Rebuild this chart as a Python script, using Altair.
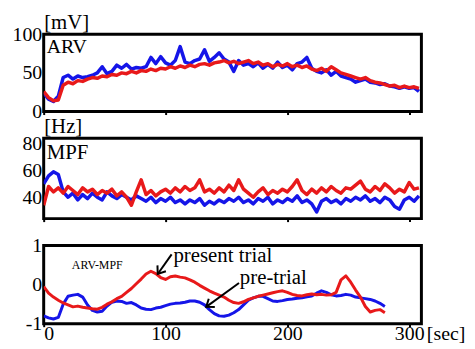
import altair as alt
import pandas as pd

# ---------------- data ----------------
T12 = list(range(0, 309, 4))  # seconds, panels ARV & MPF

arv_present = [26, 18, 14, 15, 34, 38, 36, 40, 39, 42,
               44, 43, 46, 45, 48, 47, 50, 49, 52, 50,
               53, 52, 55, 53, 56, 55, 58, 56, 59, 57,
               60, 58, 61, 62, 60, 63, 64, 66, 63, 65,
               62, 64, 66, 62, 64, 60, 62, 58, 61, 59,
               62, 58, 60, 57, 59, 55, 53, 56, 52, 58,
               54, 50, 48, 46, 44, 42, 44, 40, 38, 37,
               35, 33, 34, 31, 33, 31, 32, 30]
arv_pre = [24, 16, 13, 20, 44, 47, 42, 46, 44, 45,
           47, 50, 58, 49, 52, 60, 56, 61, 55, 57,
           56, 58, 70, 62, 71, 63, 60, 66, 84, 64,
           62, 66, 68, 80, 65, 70, 76, 68, 64, 52,
           66, 60, 62, 58, 63, 56, 61, 56, 64, 57,
           60, 54, 62, 64, 70, 56, 52, 50, 54, 47,
           52, 46, 44, 42, 38, 40, 42, 38, 37, 35,
           36, 33, 32, 30, 32, 30, 31, 26]

mpf_present = [34, 48, 44, 47, 43, 48, 45, 42, 47, 44,
               46, 42, 45, 43, 46, 41, 44, 40, 34, 44,
               53, 42, 45, 41, 44, 46, 43, 47, 44, 48,
               45, 47, 53, 44, 46, 43, 47, 44, 49, 45,
               53, 46, 43, 40, 44, 47, 42, 45, 43, 46,
               44, 48, 53, 45, 42, 46, 43, 47, 44, 48,
               45, 43, 47, 46, 49, 52, 46, 44, 48, 45,
               50, 47, 43, 46, 44, 51, 46, 47]
mpf_pre = [50, 56, 59, 57, 44, 40, 43, 38, 42, 39,
           43, 40, 38, 44, 41, 39, 42, 40, 38, 41,
           39, 37, 40, 36, 39, 37, 40, 36, 38, 35,
           38, 36, 39, 34, 37, 35, 38, 36, 39, 37,
           40, 36, 38, 35, 39, 37, 40, 35, 38, 36,
           39, 37, 41, 36, 38, 35, 29, 37, 39, 36,
           38, 35, 39, 37, 40, 38, 41, 37, 39, 36,
           40, 38, 33, 31, 38, 40, 37, 41]

T3 = list(range(0, 281, 4))  # seconds, ARV-MPF panel
diff_present = [-0.05, -0.22, -0.32, -0.40, -0.47, -0.52, -0.57, -0.55, -0.58, -0.60,
                -0.62, -0.63, -0.58, -0.50, -0.44, -0.36, -0.30, -0.20, -0.10, 0.02,
                0.14, 0.27, 0.34, 0.28, 0.18, 0.13, 0.20, 0.22, 0.19, 0.17,
                0.12, 0.06, -0.02, -0.09, -0.16, -0.22, -0.27, -0.32, -0.40, -0.46,
                -0.48, -0.44, -0.38, -0.34, -0.30, -0.27, -0.24, -0.21, -0.18, -0.16,
                -0.20, -0.25, -0.28, -0.29, -0.26, -0.24, -0.26, -0.25, -0.27, -0.26,
                -0.20, 0.12, 0.22, 0.06, -0.14, -0.32, -0.56, -0.70, -0.66, -0.64,
                -0.72]
diff_pre = [-0.80, -0.85, -0.88, -0.84, -0.50, -0.30, -0.27, -0.25, -0.32, -0.52,
            -0.66, -0.70, -0.68, -0.55, -0.45, -0.42, -0.43, -0.48, -0.46, -0.52,
            -0.60, -0.63, -0.64, -0.60, -0.58, -0.54, -0.50, -0.48, -0.47, -0.45,
            -0.42, -0.42, -0.45, -0.52, -0.64, -0.74, -0.80, -0.81, -0.78, -0.72,
            -0.64, -0.52, -0.40, -0.34, -0.30, -0.30, -0.36, -0.42, -0.43, -0.41,
            -0.38, -0.37, -0.35, -0.34, -0.31, -0.29, -0.22, -0.16, -0.20, -0.26,
            -0.29, -0.28, -0.25, -0.27, -0.32, -0.34, -0.36, -0.38, -0.42, -0.48,
            -0.56]

# annotations (data coordinates)
ann_text = ["present trial", "pre-trial"]
ann_t = [106.5, 161]
ann_v = [0.57, 0.01]
arrow_t1 = [105, 160.3]
arrow_v1 = [0.77, 0.04]
arrow_t2 = [93.6, 133.4]
arrow_v2 = [0.27, -0.57]
arrow_ang = [215, 234]

x_ticks = [0, 100, 200, 300]

# ---------------- style ----------------
BLUE = "#1515e8"
RED = "#e8191a"
FONT = "Liberation Serif, DejaVu Serif, Times New Roman, serif"
W = 381
XSCALE = alt.Scale(domain=[0, 310], nice=False, zero=False)
CHEVRON = "M -0.6 0.8 L 0 0 L 0.6 0.8"
LABEL_EXPR = "'' + datum.value"


def series_df(t, vals):
    return pd.DataFrame({"t": t, "v": vals})


def x_enc(field, show_labels):
    if show_labels:
        ax = alt.Axis(values=x_ticks, labels=True, labelFlush=True, ticks=True,
                      tickSize=3, tickWidth=2, tickColor="black", domain=False,
                      grid=False, labelPadding=13, labelBaseline="alphabetic",
                      labelFont=FONT, labelFontSize=20, labelColor="black",
                      labelExpr=LABEL_EXPR,
                      titleX=386, titleY=16, titleAlign="left",
                      titleBaseline="alphabetic", titleFont=FONT,
                      titleFontSize=20, titleFontWeight="normal",
                      titleColor="black")
        return alt.X(field, type="quantitative", scale=XSCALE, axis=ax, title="[sec]")
    ax = alt.Axis(values=x_ticks, labels=False, ticks=True, tickSize=3,
                  tickWidth=2, tickColor="black", domain=False, grid=False)
    return alt.X(field, type="quantitative", scale=XSCALE, axis=ax, title=None)


def y_enc(field, domain, values, title):
    common = dict(values=values, ticks=False, domain=False, grid=False,
                  labelPadding=2, labelFont=FONT, labelFontSize=20,
                  labelColor="black", labelExpr=LABEL_EXPR)
    scale = alt.Scale(domain=domain, nice=False, zero=False)
    if title:
        ax = alt.Axis(titleAngle=0, titleAlign="left",
                      titleBaseline="top", titleX=0, titleY=-23,
                      titleFont=FONT, titleFontSize=21,
                      titleFontWeight="normal", titleColor="black", **common)
        return alt.Y(field, type="quantitative", scale=scale, axis=ax, title=title)
    return alt.Y(field, type="quantitative", scale=scale,
                 axis=alt.Axis(**common), title=None)


def lines(t, pre, present, domain, values, title, width_px, show_x):
    blue = alt.Chart(series_df(t, pre)).mark_line(
        color=BLUE, strokeWidth=width_px, strokeJoin="round", clip=True
    ).encode(x=x_enc("t", show_x), y=y_enc("v", domain, values, title))
    red = alt.Chart(series_df(t, present)).mark_line(
        color=RED, strokeWidth=width_px, strokeJoin="round", clip=True
    ).encode(x=x_enc("t", show_x), y=y_enc("v", domain, values, title))
    return blue, red


def label(text, x, y, size):
    return alt.Chart(pd.DataFrame({"s": [text]})).mark_text(
        align="left", baseline="alphabetic", font=FONT, fontSize=size,
        color="black"
    ).encode(text="s:N", x=alt.value(x), y=alt.value(y))


# panel 1 : ARV
b1, r1 = lines(T12, arv_pre, arv_present, [0, 100], [0, 50, 100], "[mV]", 3.5, False)
p1 = alt.layer(b1, r1, label("ARV", 3, 19, 20)).properties(width=W, height=78)

# panel 2 : MPF
b2, r2 = lines(T12, mpf_pre, mpf_present, [24, 84], [40, 60, 80], "[Hz]", 3.5, False)
p2 = alt.layer(b2, r2, label("MPF", 3, 21, 21)).properties(width=W, height=81)

# panel 3 : ARV-MPF
b3, r3 = lines(T3, diff_pre, diff_present, [-1, 1], [-1, 0, 1], None, 3, True)
ann_df = pd.DataFrame({"s": ann_text, "t": ann_t, "v": ann_v})
arr_df = pd.DataFrame({"t": arrow_t1, "v": arrow_v1, "t2": arrow_t2,
                       "v2": arrow_v2, "ang": arrow_ang})
texts = alt.Chart(ann_df).mark_text(
    align="left", baseline="alphabetic", font=FONT, fontSize=21, color="black"
).encode(x=x_enc("t", True), y=y_enc("v", [-1, 1], [-1, 0, 1], None), text="s:N")
rules = alt.Chart(arr_df).mark_rule(color="black", strokeWidth=2).encode(
    x=x_enc("t", True), y=y_enc("v", [-1, 1], [-1, 0, 1], None),
    x2="t2:Q", y2="v2:Q")
heads = alt.Chart(arr_df).mark_point(
    shape=CHEVRON, filled=False, stroke="black", strokeWidth=2, size=300,
    opacity=1
).encode(x=x_enc("t2", True), y=y_enc("v2", [-1, 1], [-1, 0, 1], None),
         angle=alt.Angle("ang:Q", scale=None))
small = alt.Chart(pd.DataFrame({"s": ["ARV-MPF"]})).mark_text(
    align="center", baseline="alphabetic", font=FONT, fontSize=12,
    color="black"
).encode(text="s:N", x=alt.value(54), y=alt.value(24))
p3 = alt.layer(b3, r3, rules, heads, texts, small).properties(width=W, height=79)

chart = alt.vconcat(p1, p2, p3, spacing=27, bounds="flush").properties(
    padding={"left": 2, "top": 0, "right": 0, "bottom": -2}
).configure(background="white").configure_view(
    stroke="black", strokeWidth=3
).configure_axis(labelFont=FONT, titleFont=FONT)

chart.save("out.html", embed_options={"renderer": "svg", "actions": False})
